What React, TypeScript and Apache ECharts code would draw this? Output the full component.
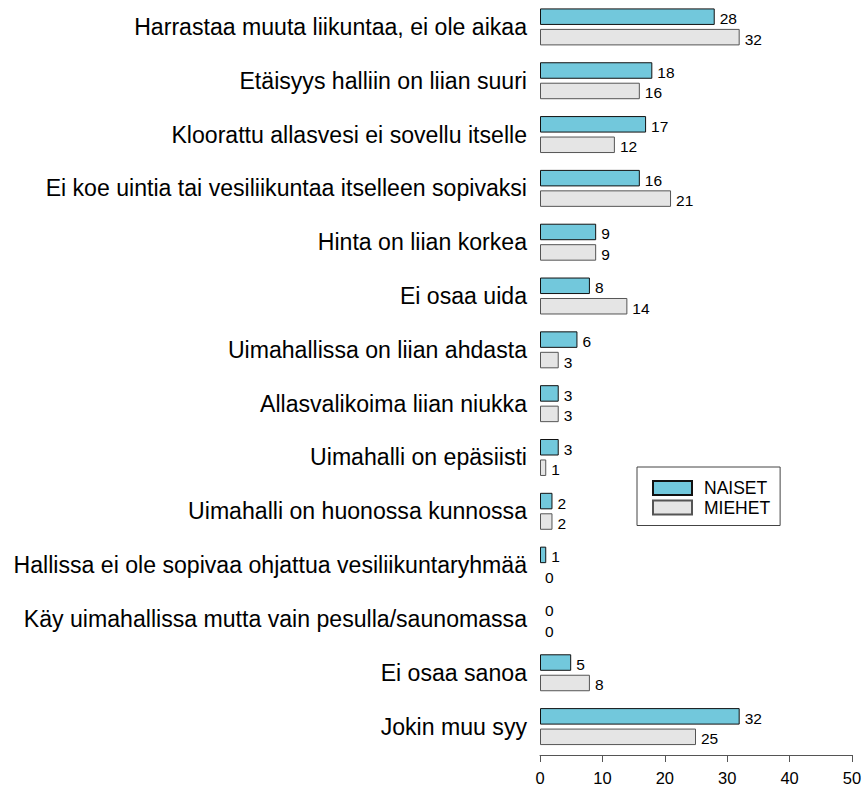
import React, { useEffect, useRef } from "react";
import * as echarts from "echarts";

const categories = [
  "Harrastaa muuta liikuntaa, ei ole aikaa",
  "Etäisyys halliin on liian suuri",
  "Kloorattu allasvesi ei sovellu itselle",
  "Ei koe uintia tai vesiliikuntaa itselleen sopivaksi",
  "Hinta on liian korkea",
  "Ei osaa uida",
  "Uimahallissa on liian ahdasta",
  "Allasvalikoima liian niukka",
  "Uimahalli on epäsiisti",
  "Uimahalli on huonossa kunnossa",
  "Hallissa ei ole sopivaa ohjattua vesiliikuntaryhmää",
  "Käy uimahallissa mutta vain pesulla/saunomassa",
  "Ei osaa sanoa",
  "Jokin muu syy",
];
const naiset = [28, 18, 17, 16, 9, 8, 6, 3, 3, 2, 1, 0, 5, 32];
const miehet = [32, 16, 12, 21, 9, 14, 3, 3, 1, 2, 0, 0, 8, 25];
const seriesNames = ["NAISET", "MIEHET"];

const FONT = "'Liberation Sans', Arial, Helvetica, sans-serif";

const toData = (arr: number[]) =>
  arr.map((v) => (v === 0 ? { value: v, itemStyle: { borderWidth: 0 } } : v));

export default function App() {
  const ref = useRef<HTMLDivElement>(null);
  useEffect(() => {
    if (!ref.current) return;
    const chart = echarts.init(ref.current, null, { renderer: "svg" });
    const label = {
      show: true,
      position: "right" as const,
      distance: 5,
      offset: [0, 2],
      fontSize: 15.5,
      color: "#000",
      fontFamily: FONT,
    };
    chart.setOption({
      animation: false,
      textStyle: { fontFamily: FONT },
      grid: { left: 540, right: 13, top: -1.5, height: 755, containLabel: false },
      legend: {
        orient: "vertical",
        left: 637,
        top: 467,
        padding: [12, 10, 9, 15],
        itemGap: 1.5,
        itemWidth: 39,
        itemHeight: 14,
        icon: "rect",
        borderColor: "#444",
        borderWidth: 1,
        borderRadius: 0,
        textStyle: { fontSize: 17.5, lineHeight: 18, color: "#000", fontFamily: FONT, padding: [0, 0, 0, 7] },
        data: seriesNames,
      },
      xAxis: {
        type: "value",
        min: 0,
        max: 50,
        interval: 10,
        offset: 1.5,
        axisLine: { show: true, lineStyle: { color: "#555", width: 1 } },
        axisTick: { show: true, length: 7, lineStyle: { color: "#555" } },
        splitLine: { show: false },
        axisLabel: { fontSize: 16.5, color: "#000", margin: 14, fontFamily: FONT },
      },
      yAxis: {
        type: "category",
        data: categories,
        inverse: true,
        axisLine: { show: false },
        axisTick: { show: false },
        axisLabel: { fontSize: 23.1, color: "#000", margin: 13, fontFamily: FONT },
      },
      series: [
        {
          name: seriesNames[0],
          type: "bar",
          data: toData(naiset),
          barWidth: 16.5,
          barGap: "24%",
          itemStyle: { color: "#72C8DC", borderColor: "#111", borderWidth: 1 },
          label,
        },
        {
          name: seriesNames[1],
          type: "bar",
          data: toData(miehet),
          barWidth: 16.5,
          barGap: "24%",
          itemStyle: { color: "#E5E5E5", borderColor: "#555", borderWidth: 1 },
          label,
        },
      ],
    });
    return () => chart.dispose();
  }, []);
  return <div ref={ref} style={{ width: 865, height: 788, position: "absolute", left: 0, top: 0 }} />;
}
